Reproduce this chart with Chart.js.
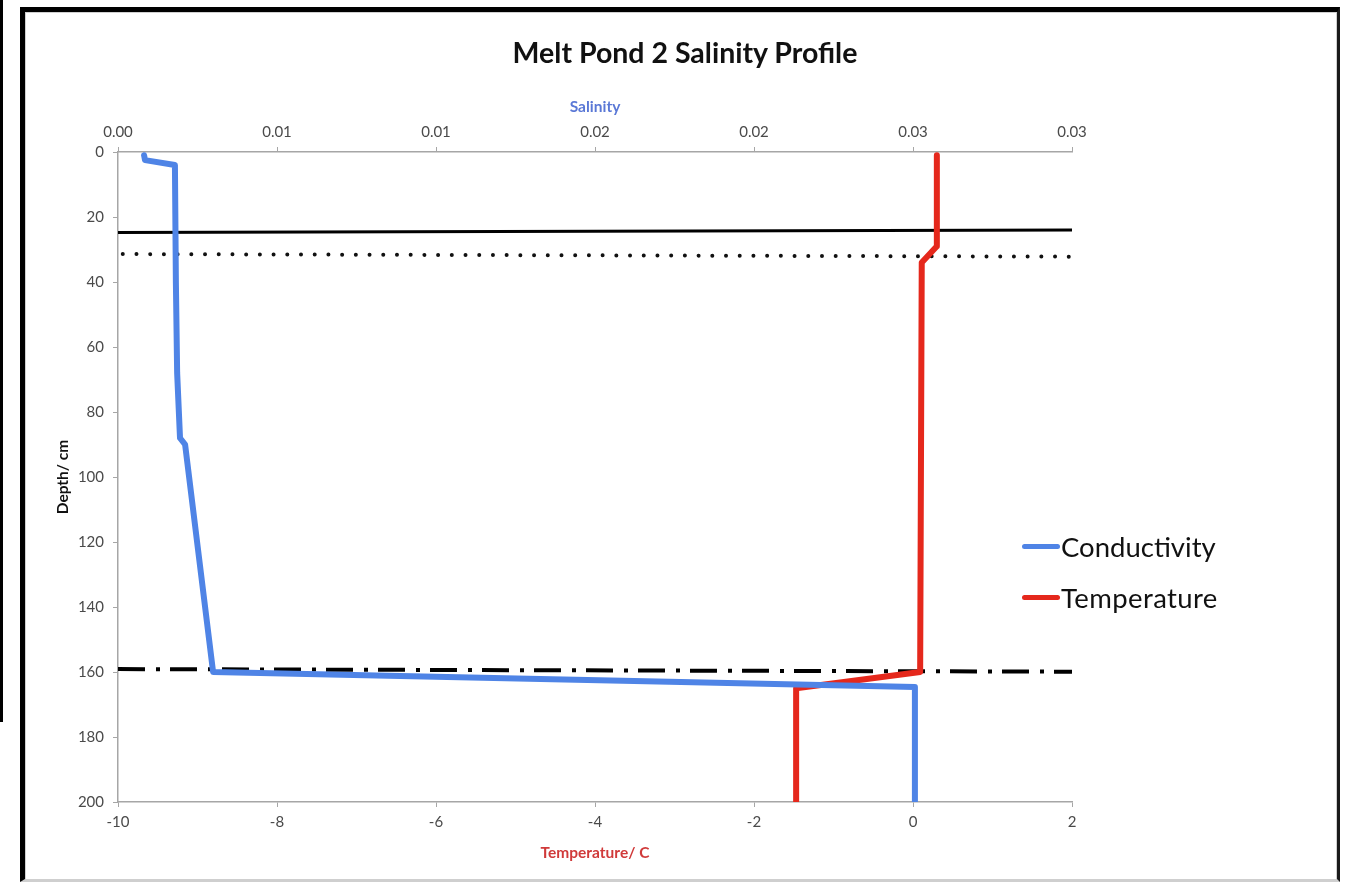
<!DOCTYPE html>
<html>
<head>
<meta charset="utf-8">
<title>Melt Pond 2 Salinity Profile</title>
<script src="https://cdn.jsdelivr.net/npm/chart.js@4.4.1/dist/chart.umd.min.js"></script>
<style>
  html, body { margin: 0; padding: 0; background: #fff; }
  body { width: 1345px; height: 885px; position: relative; overflow: hidden; font-family: Lato, "Open Sans", sans-serif; }
  #edge { position: absolute; left: 0; top: 0; width: 3px; height: 722px; background: #000; }
  #frame {
    position: absolute; left: 20px; top: 7px; width: 1320px; height: 875px;
    border-top: 5px solid #000; border-left: 5px solid #000; border-right: 3px solid #1a1a1a;
    border-bottom: 3px solid #cfcfcf; box-sizing: border-box;
  }
  #frame-inner { position: absolute; left: 0; top: 0; right: 0; bottom: 0; border-top: 1px solid #d0d0d0; border-left: 1px solid #d0d0d0; border-right: 1px solid #d0d0d0; }
  #chart { position: absolute; left: 0; top: 0; }
  #title { position: absolute; left: 0; width: 1370px; top: 35px; height: 34px; line-height: 34px; text-align: center; font-size: 28.5px; font-weight: bold; color: #111; }
  .legend-item { position: absolute; left: 1022px; height: 32px; display: flex; align-items: center; font-size: 27.5px; color: #111; }
  .legend-swatch { width: 38px; height: 5px; border-radius: 3px; margin-right: 1px; }
</style>
</head>
<body>
<div id="edge"></div>
<div id="frame"><div id="frame-inner"></div></div>
<canvas id="chart" width="1345" height="885"></canvas>
<div id="title">Melt Pond 2 Salinity Profile</div>
<div class="legend-item" style="top:530px"><div class="legend-swatch" style="background:#4F84E6"></div><span>Conductivity</span></div>
<div class="legend-item" style="top:581px"><div class="legend-swatch" style="background:#E5281C"></div><span style="letter-spacing:0.4px">Temperature</span></div>
<script>
// Depth profile of melt pond 2: conductivity (plotted on the salinity axis) and temperature
const conductivitySalinity = [0.00082, 0.00085, 0.00179, 0.00182, 0.00186, 0.00195, 0.00211, 0.00299, 0.02506, 0.02506];
const conductivityDepth    = [1, 2.5, 4, 40, 68, 88, 90, 160, 164.6, 200];

const temperatureValues = [0.30, 0.30, 0.11, 0.09, -1.47, -1.47];
const temperatureDepth  = [1, 29, 34, 160, 165, 200];

// Horizontal boundary markers across the profile (temperature axis x, depth y)
const surfaceLineX = [-10, 2];
const surfaceLineDepth = [24.8, 24.0];
const dottedLineX = [-9.94, 2];
const dottedLineDepth = [31.4, 32.2];
const bottomLineX = [-10, 2];
const bottomLineDepth = [159.1, 159.9];

// Axis ticks
const temperatureTicks = [-10, -8, -6, -4, -2, 0, 2];
const salinityTicks = [0, 0.005, 0.01, 0.015, 0.02, 0.025, 0.03];
const salinityTickLabels = ['0.00', '0.01', '0.01', '0.02', '0.02', '0.03', '0.03'];
const depthTicks = [0, 20, 40, 60, 80, 100, 120, 140, 160, 180, 200];

const toPoints = (xs, ys) => xs.map((x, i) => ({ x: x, y: ys[i] }));

const FONT = 'Lato, "Open Sans", sans-serif';
const axisLine = '#a6a6a6';
const tickColor = '#4a4a4a';

const fixedTicks = (values) => (scale) => { scale.ticks = values.map(v => ({ value: v })); };

new Chart(document.getElementById('chart'), {
  type: 'scatter',
  data: {
    datasets: [
      {
        label: 'Conductivity',
        data: toPoints(conductivitySalinity, conductivityDepth),
        xAxisID: 'x2', yAxisID: 'y',
        showLine: true, borderColor: '#4F84E6', borderWidth: 6,
        pointRadius: 0, borderJoinStyle: 'round', borderCapStyle: 'round', tension: 0
      },
      {
        label: 'Temperature',
        data: toPoints(temperatureValues, temperatureDepth),
        xAxisID: 'x', yAxisID: 'y',
        showLine: true, borderColor: '#E5281C', borderWidth: 6,
        pointRadius: 0, borderJoinStyle: 'round', borderCapStyle: 'round', tension: 0
      },
      {
        label: 'surface',
        data: toPoints(surfaceLineX, surfaceLineDepth),
        xAxisID: 'x', yAxisID: 'y',
        showLine: true, borderColor: '#000', borderWidth: 3, pointRadius: 0
      },
      {
        label: 'dotted',
        data: toPoints(dottedLineX, dottedLineDepth),
        xAxisID: 'x', yAxisID: 'y',
        showLine: true, borderColor: '#111', borderWidth: 4, pointRadius: 0,
        borderDash: [0.01, 13.7], borderCapStyle: 'round'
      },
      {
        label: 'dashdot',
        data: toPoints(bottomLineX, bottomLineDepth),
        xAxisID: 'x', yAxisID: 'y',
        showLine: true, borderColor: '#000', borderWidth: 4, pointRadius: 0,
        borderDash: [27, 11, 4, 10], borderCapStyle: 'butt'
      }
    ]
  },
  options: {
    responsive: false,
    animation: false,
    devicePixelRatio: 1,
    layout: { padding: { left: 30, right: 273, top: 0, bottom: 13 } },
    plugins: {
      legend: { display: false },
      tooltip: { enabled: false },
      title: { display: false }
    },
    scales: {
      x: {
        type: 'linear', position: 'bottom', min: -10, max: 2,
        afterBuildTicks: fixedTicks(temperatureTicks),
        afterFit: (s) => { s.height = 70; },
        grid: { drawOnChartArea: false, drawTicks: true, tickLength: 5, color: axisLine },
        border: { display: true, color: axisLine, width: 1.5 },
        ticks: { color: tickColor, font: { family: FONT, size: 15 }, padding: 6, maxRotation: 0, autoSkip: false },
        title: { display: true, text: 'Temperature/ C', color: '#D03A3A', font: { family: FONT, size: 15.5, weight: 'bold' }, padding: { top: 0, bottom: 9.7 } }
      },
      x2: {
        type: 'linear', position: 'top', min: 0, max: 0.03,
        afterBuildTicks: fixedTicks(salinityTicks),
        afterFit: (s) => { s.height = 152; },
        grid: { drawOnChartArea: false, drawTicks: true, tickLength: 5, color: axisLine },
        border: { display: true, color: axisLine, width: 1.5 },
        ticks: {
          color: tickColor, font: { family: FONT, size: 15 }, padding: 6, maxRotation: 0, autoSkip: false,
          callback: (v, i) => salinityTickLabels[i]
        },
        title: { display: true, text: 'Salinity', color: '#5A78D6', font: { family: FONT, size: 15.5, weight: 'bold' }, padding: { top: 97.7, bottom: 0 } }
      },
      y: {
        type: 'linear', position: 'left', min: 0, max: 200, reverse: true,
        afterBuildTicks: fixedTicks(depthTicks),
        afterFit: (s) => { s.width = 88; },
        grid: { drawOnChartArea: false, drawTicks: true, tickLength: 5, color: axisLine },
        border: { display: true, color: axisLine, width: 1.5 },
        ticks: { color: tickColor, font: { family: FONT, size: 15 }, padding: 9, autoSkip: false },
        title: { display: true, text: 'Depth/ cm', color: '#111', font: { family: FONT, size: 15.5, weight: 'bold' }, padding: { top: 23.7, bottom: 0 } }
      }
    }
  }
});
</script>
</body>
</html>
